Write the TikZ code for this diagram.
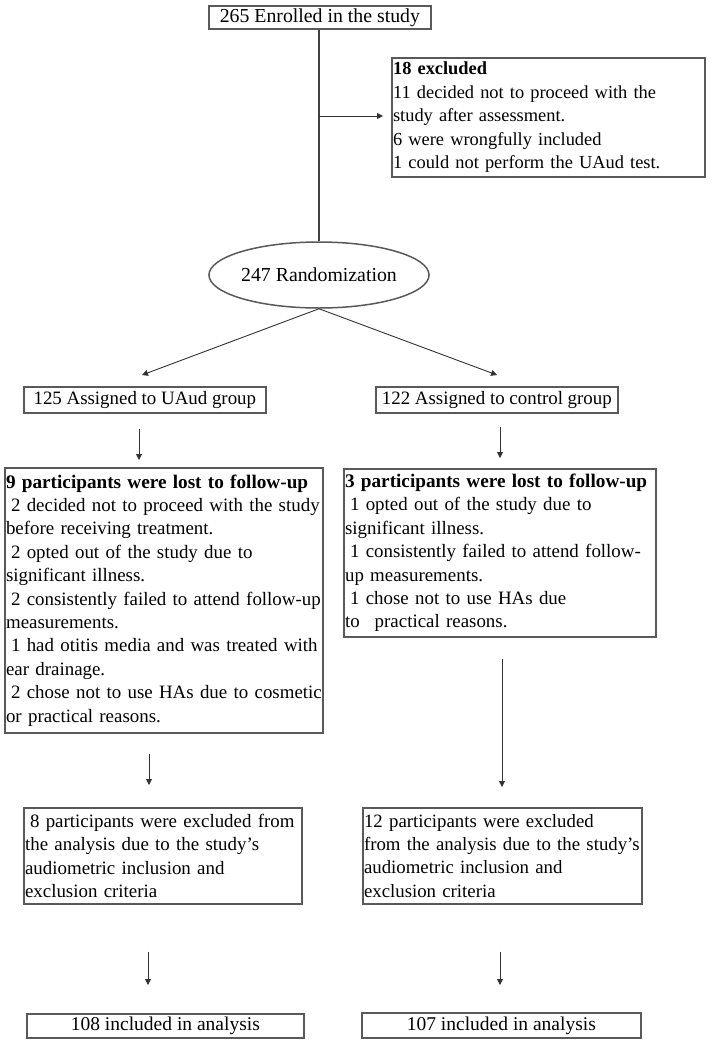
\documentclass[tikz,border=0pt]{standalone}
\usepackage{fontspec}
\setmainfont{Liberation Serif}
\usetikzlibrary{arrows.meta,shapes.geometric}
\newcommand{\ind}{\hspace*{5pt}}
\newcommand{\tl}[1]{\mbox{#1}}
\begin{document}
\begin{tikzpicture}[x=1pt,y=-1pt,
  fs/.style={font=\fontsize{#1}{23.4}\selectfont},
  box/.style={draw=black!65,line width=1.7pt,anchor=north west,inner xsep=1.2pt,inner ysep=0pt,
    fs=18.9,align=left},
  cbox/.style={box,align=center},
  arr/.style={draw=black!80,line width=0.9pt,-{Triangle[length=6pt,width=6pt]}},
  ln/.style={draw=black!75,line width=1.1pt}]
\useasboundingbox (0,0) rectangle (713,1042);
% nodes
\node[cbox,fs=19.8,minimum width=222pt,minimum height=23pt] (top) at (208,5) {265 Enrolled in the study};
\node[box,fs=18.4,text width=311pt,minimum height=119pt] (ex) at (391,57)
  {\tl{\textbf{18 excluded}}\\\tl{11 decided not to proceed with the}\\\tl{study after assessment.}\\\tl{6 were wrongfully included}\\\tl{1 could not perform the UAud test.}};
\node[ellipse,draw=black!65,line width=1.5pt,minimum width=188pt,minimum height=66pt,inner sep=0pt,
  fs=19.8] (rand) at (319,275) {247 Randomization};
\node[cbox,minimum width=242pt,minimum height=26pt] (a1) at (23,386) {125 Assigned to UAud group};
\node[cbox,minimum width=242pt,minimum height=26pt] (a2) at (375,386) {122 Assigned to control group};
\node[box,text width=316pt,minimum height=265pt] (l1) at (4,467)
  {\tl{\fontsize{19.2}{23.4}\selectfont\textbf{9 participants were lost to follow-up}}\\
   \tl{\ind 2 decided not to proceed with the study}\\\tl{before receiving treatment.}\\
   \tl{\ind 2 opted out of the study due to}\\\tl{significant illness.}\\
   \tl{\ind 2 consistently failed to attend follow-up}\\\tl{measurements.}\\
   \tl{\ind 1 had otitis media and was treated with}\\\tl{ear drainage.}\\
   \tl{\ind 2 chose not to use HAs due to cosmetic}\\\tl{or practical reasons.}};
\node[box,text width=310pt,minimum height=168pt] (l2) at (343,468)
  {\tl{\fontsize{19.2}{23.4}\selectfont\textbf{3 participants were lost to follow-up}}\\
   \tl{\ind 1 opted out of the study due to}\\\tl{significant illness.}\\
   \tl{\ind 1 consistently failed to attend follow-}\\\tl{up measurements.}\\
   \tl{\ind 1 chose not to use HAs due}\\\tl{to\hspace{15pt}practical reasons.}};
\node[box,text width=276pt,minimum height=96pt] (e1) at (23,807)
  {\tl{\ind 8 participants were excluded from}\\\tl{the analysis due to the study's}\\\tl{audiometric inclusion and}\\\tl{exclusion criteria}};
\node[box,fs=18.8,text width=277pt,minimum height=96pt] (e2) at (362,807)
  {\tl{12 participants were excluded}\\\tl{from the analysis due to the study's}\\\tl{audiometric inclusion and}\\\tl{exclusion criteria}};
\node[cbox,fs=19.5,minimum width=277pt,minimum height=24pt] (f1) at (26,1013) {108 included in analysis};
\node[cbox,fs=19.5,minimum width=279pt,minimum height=25pt] (f2) at (361,1012) {107 included in analysis};
% helper coordinates
\coordinate (j) at (319,116);
\coordinate (tipL) at (142,375);
\coordinate (tipR) at (497,375);
\coordinate (xa) at (139,0);
\coordinate (xb) at (500,0);
\coordinate (xc) at (149,0);
\coordinate (xd) at (502,0);
\coordinate (xe) at (148,0);
\coordinate (xf) at (500,0);
% connectors
\draw[ln] (top.south -| j) -- (rand.north);
\draw[arr,shorten >=8pt] (j) -- (j -| ex.west);
\draw[arr] (rand.south) -- (tipL);
\draw[arr] (rand.south) -- (tipR);
\draw[arr,shorten <=15pt,shorten >=7pt] (a1.south -| xa) -- (l1.north -| xa);
\draw[arr,shorten <=13pt,shorten >=10pt] (a2.south -| xb) -- (l2.north -| xb);
\draw[arr,shorten <=20pt,shorten >=22pt] (l1.south -| xc) -- (e1.north -| xc);
\draw[arr,shorten <=21pt,shorten >=20pt] (l2.south -| xd) -- (e2.north -| xd);
\draw[arr,shorten <=47pt,shorten >=28pt] (e1.south -| xe) -- (f1.north -| xe);
\draw[arr,shorten <=47pt,shorten >=27pt] (e2.south -| xf) -- (f2.north -| xf);
\end{tikzpicture}
\end{document}
